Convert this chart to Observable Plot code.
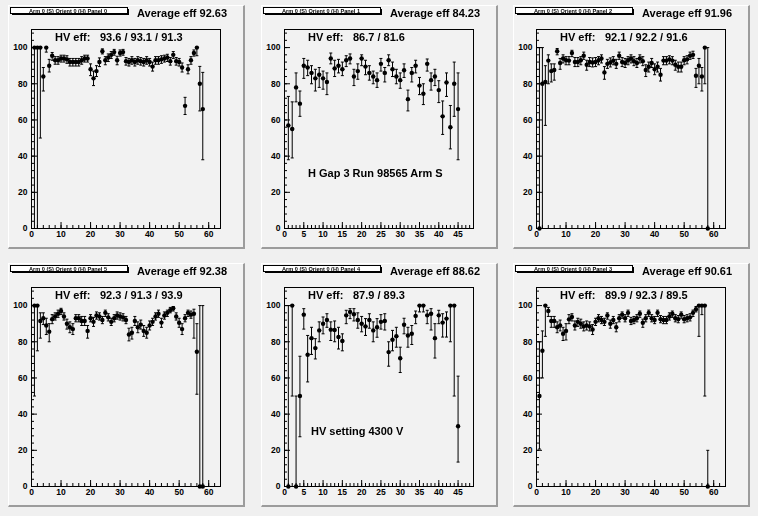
<!DOCTYPE html>
<html>
<head>
<meta charset="utf-8">
<script src="https://cdn.jsdelivr.net/npm/d3@7"></script>
<script src="https://cdn.jsdelivr.net/npm/@observablehq/plot@0.6"></script>
<style>
html,body{margin:0;padding:0;background:#f0f0f0;}
#canvas{position:relative;width:758px;height:516px;background:#f0f0f0;overflow:hidden;}
.pad{position:absolute;box-sizing:border-box;width:237px;height:244px;background:#f2f2f2;border-top:1px solid #ffffff;border-left:1px solid #ffffff;border-right:2px solid #9c9c9c;border-bottom:2px solid #9c9c9c;}
.cell{position:absolute;width:252px;height:256px;}
.cell svg{position:absolute;left:0;top:0;overflow:visible;}
svg.ann{will-change:transform;}
</style>
</head>
<body>
<div id="canvas"></div>
<script>
// ---- panel metadata (reading order: top row left->right, bottom row left->right)
const panelTitles = ["Arm 0 (S) Orient 0 (H) Panel 0","Arm 0 (S) Orient 0 (H) Panel 1","Arm 0 (S) Orient 0 (H) Panel 2",
                     "Arm 0 (S) Orient 0 (H) Panel 5","Arm 0 (S) Orient 0 (H) Panel 4","Arm 0 (S) Orient 0 (H) Panel 3"];
const avgEff = ["92.63","84.23","91.96","92.38","88.62","90.61"];
const hvEff = ["93.6 / 93.1 / 91.3","86.7 / 81.6","92.1 / 92.2 / 91.6","92.3 / 91.3 / 93.9","87.9 / 89.3","89.9 / 92.3 / 89.5"];
const xMax = [64,49,64,64,49,64];
const notes = [null,"H Gap 3 Run 98565 Arm S",null,null,"HV setting 4300 V",null];
const yTicks = [0,20,40,60,80,100];

// ---- efficiency per bin (bins 1..N), lower and upper error bounds
const eff0 = [100,100,100,84,100,90,95.5,93,93,94,94,93.5,92,92,92,92,93,94,94,88,83,87,92,98,93,94.5,96,97.5,93,97,97.5,92.5,92,93,92,93,92.5,92,93,92,89.5,93,93,93.5,94,94.5,92.5,96,92.5,92,89,67.8,88,93,97,100,80,66];
const lo0 = [0,0,50,76,97.5,86.5,93,90.8,90.8,92,92,91.3,89.8,89.8,89.8,89.8,90.8,92,92,84.5,79,84,89.5,96.5,90.5,92.3,94,95.8,90.5,95.3,95.8,90.3,89.8,90.8,89.8,90.8,90.3,89.8,90.8,89.8,87,90.8,90.8,91.3,92,92.3,90.3,94,90.3,89.8,86.5,63,85.5,90.8,95.3,95.5,65,38];
const hi0 = [100,100,100,89,100,93.5,97.3,95,95,95.8,95.8,95.5,94,94,94,94,95,95.8,95.8,91,87,90,94.3,99.3,95,96.5,97.8,99,95.2,98.7,99,94.5,94,95,94,95,94.5,94,95,94,92,95,95,95.5,95.8,96.3,94.5,97.8,94.5,94,91.5,72.5,90.5,95,98.7,100,89.6,86.3];

const eff1 = [57,55,78,69,90,89,86,83,85,83,81,94,88.5,90,88,93,94,84,87,94,89.5,86,84,82,91,86,93,88,84,82,87.5,71.5,86,90,79,74.5,91,82,84,76.5,62,80.7,56,80,66];
const lo1 = [38,39,70,62,83,84.5,80,76,78,77,74,91,84,86,84.5,89.5,91,79,82.5,90,85,82,80,78,87,81,90,84,80,77.5,83.5,65,81,86,74,68.5,87,76.5,79,69.6,52,73,44,62,38];
const hi1 = [73,70,86,76,94,93,90,88,89,87,86,97,93,93.5,92,95.5,96.5,88,91,96,93,90,87,86,94,89,96,92,88,86,91,76.5,89,93,83.5,80,93.7,86,88,81.7,70.5,86,68,92,86];

const eff2 = [0,80,81,92.8,87,87.6,98,91.5,94,93,92.8,97,92,92,93,95.5,90.5,92,91.8,92,93,94,86.3,91,91.8,92.8,91,95.5,92,91.5,93,94,92.5,91.5,94,92.5,87.6,89.4,91.5,88,89.4,85,92.8,92.8,93.5,92.8,90.5,89.4,89.4,93,93.5,95.5,96,84.4,90,84,100,0];
const lo2 = [0,0,57,80,81,82,96,88,91.5,90.5,90.5,95,89.5,89.5,90.5,93.5,87.5,89.5,89.3,89.5,90.5,91.5,82.5,88.5,89.3,90.5,88.5,93.5,89.5,89,90.5,91.5,90,89,91.5,90,84,86.5,89,85,86.5,81.5,90.5,90.5,91,90.5,87.5,86.5,86.5,90.5,91,93.5,94,78,80,76,80,0];
const hi2 = [100,100,90,96,91,91,99.5,94,96,95,95,98.5,94.5,94.5,95,97.5,93,94.5,94.3,94.5,95,96,89.5,93.5,94.3,95,93.5,97.5,94.5,94,95,96,95,94,96,95,90.5,92,94,91,92,88.5,95,95,95.5,95,93,92,92,95,95.5,97.5,98,88.5,94,89,100,100];

const eff3 = [100,100,91.5,93,89,85.6,92.5,94,95.5,97,94,90,88,87,93,93,91.5,91.5,86,93,91,94.5,94,92,96,93.5,91,93,94.5,94,93.5,92,84,85,91.5,88,89.5,86,85,89,91,94,95.5,90.6,94.5,96,97.5,98.5,94,90.5,87,93,96,95,95.5,74.5,0,0];
const lo3 = [50,75,82,89.5,84,80,90,92,93.5,95,92,87,85,84,91,91,89,89,82,91,88.5,92.5,92,90,94,91.5,89,91,92.5,92,91.5,90,80.5,81.5,89,85,87,83,82,86.5,89,92,93.5,88,92.5,94,96,97,92,88,84,91,94,93,82,51,0,0];
const hi3 = [100,100,96,96,93,90,95,96,97.5,98.5,96,92.5,91,90,95,95,94,94,89,95,93.5,96.5,96,94,97.5,95.5,93,95,96.5,96,95.5,94,87.5,88,94,91,92,89,88,91.5,93,96,97.5,93,96.5,97.5,99,99.5,96,93,90,95,97.5,97,98,90,100,100];

const eff4 = [0,100,0,50,95,72.8,82,76.5,86.3,90,92,86.7,86.5,82.6,80.4,94.6,96.5,95.2,92,90,88.5,92,86.3,88,91,91.5,74.3,81.1,83.1,70.9,89.4,83.5,84.4,94.3,100,100,94.6,95.5,82,94.6,90.6,92.8,100,100,33.3];
const lo4 = [0,50,0,27.5,87,57.8,73,70.5,80,84.4,88,80.7,80,76,75,90,92.8,91.5,87.5,85.5,83.5,87.5,80,82.5,87,86.5,66.5,75,77,63,84.4,77,78.5,90,96.5,96.5,90,86.5,71,90,82.6,82.6,80,50,13.5];
const hi4 = [100,100,50,72,98.3,83.5,88,81.7,91,93.7,95.5,91,91.5,88,84.4,97.4,98.3,98.3,96,94,92.8,95.5,91,92.8,95,95.5,80,86.3,88,77,93,88,89,97,100,100,97.4,98.3,90,97.4,95.5,96.5,100,100,61];

const eff5 = [50,75,100,97,91.5,91.5,88,89,84.4,86,92.4,93.7,89,91,90,88.5,89,88.5,86.8,91,93,92,91,94.5,90,92,88,93,95,93,96,91.5,92,93,95.5,90.5,93,96,93,92,96,92.5,92,92,94,95.5,93,92.5,95,92.5,93,93.5,96,98,100,100,100,0];
const lo5 = [20.7,60,83,94,88,88,85,86,80.7,81,90,91.5,86.5,88.5,87.5,86,86.5,86,84,89,91,90,89,92.5,87.5,90,85.5,91,93,91,94,89.5,90,91,93.5,88,91,94,91,90,94,90.5,90,90,92,93.5,91,90.5,93,90.5,91,91.5,94,96.5,83,95,50,0];
const hi5 = [80,86,100,99,94,94,91,92,88,90,95,95.5,91.5,93,92.5,91,91.5,91,89.5,93,95,94,93,96,92,94,90.5,95,96.5,95,97.5,93.5,94,95,97,92.5,95,97.5,95,94,97.5,94.5,94,94,96,97,95,94.5,96.5,94.5,95,95.5,97.5,99.5,100,100,100,20];

const effs = [eff0,eff1,eff2,eff3,eff4,eff5];
const los = [lo0,lo1,lo2,lo3,lo4,lo5];
const his = [hi0,hi1,hi2,hi3,hi4,hi5];

// ---- layout
const FONT = '"Liberation Sans", Arial, Helvetica, sans-serif';
const cellX = [0,253,505], cellY = [0,258];
const W = 252, H = 256, ML = 31, MR = 32, MT = 29, MB = 28;
const root = document.getElementById("canvas");

for (let i = 0; i < 6; i++) {
  const col = i % 3, row = Math.floor(i / 3);
  const pad = document.createElement("div");
  pad.className = "pad";
  pad.style.left = (cellX[col] + 8) + "px";
  pad.style.top = (cellY[row] + 5) + "px";
  root.appendChild(pad);

  const cell = document.createElement("div");
  cell.className = "cell";
  cell.style.left = cellX[col] + "px";
  cell.style.top = cellY[row] + "px";
  root.appendChild(cell);

  const data = effs[i].map((v, j) => ({x: j + 1, y: v, lo: los[i][j], hi: his[i][j]}));
  const xm = xMax[i];
  const pxPerUnit = (W - ML - MR) / xm;
  const cap = 1.5 / pxPerUnit;
  const major = xm > 50 ? d3.range(0, xm + 0.01, 10) : d3.range(0, xm + 0.01, 5);
  const minor = xm > 50 ? d3.range(0, xm + 0.01, 2) : d3.range(0, xm + 0.01, 1);
  const yMinor = d3.range(0, 110, 4);

  const chart = Plot.plot({
    width: W, height: H,
    marginLeft: ML, marginRight: MR, marginTop: MT, marginBottom: MB,
    style: {background: "transparent", fontFamily: FONT, fontSize: "8.5px", fontWeight: "bold", color: "#000", overflow: "visible"},
    x: {domain: [0, xm]},
    y: {domain: [0, 110]},
    marks: [
      Plot.frame({stroke: "#000", strokeWidth: 1}),
      Plot.axisX({ticks: minor, tickSize: -3, tickFormat: () => "", label: null}),
      Plot.axisX({ticks: major, tickSize: -6, tickPadding: 8, label: null, fontWeight: "bold"}),
      Plot.axisY({ticks: yMinor, tickSize: -3, tickFormat: () => "", label: null}),
      Plot.axisY({ticks: yTicks, tickSize: -6, tickPadding: 10, label: null, fontWeight: "bold"}),
      Plot.link(data, {x1: d => d.x - 0.5, x2: d => d.x + 0.5, y1: "y", y2: "y", stroke: "#000", strokeWidth: 1}),
      Plot.link(data, {x1: "x", x2: "x", y1: "lo", y2: "hi", stroke: "#000", strokeWidth: 1}),
      Plot.link(data, {x1: d => d.x - cap, x2: d => d.x + cap, y1: "lo", y2: "lo", stroke: "#000", strokeWidth: 1}),
      Plot.link(data, {x1: d => d.x - cap, x2: d => d.x + cap, y1: "hi", y2: "hi", stroke: "#000", strokeWidth: 1}),
      Plot.dot(data, {x: "x", y: "y", r: 2.2, fill: "#000", stroke: null})
    ]
  });
  cell.appendChild(chart);

  // annotations: title box, average efficiency, HV efficiency, notes
  const ov = d3.create("svg").attr("class", "ann").attr("width", W).attr("height", H)
    .style("font-family", FONT).style("font-weight", "bold");
  ov.append("rect").attr("x", 12).attr("y", 9).attr("width", 117).attr("height", 6).attr("fill", "#000");
  ov.append("rect").attr("x", 10.5).attr("y", 7.5).attr("width", 117).attr("height", 6).attr("fill", "#fff").attr("stroke", "#000");
  ov.append("text").attr("x", 68).attr("y", 12.8).attr("text-anchor", "middle").attr("font-size", 5.6).attr("fill", "#000").text(panelTitles[i]);
  ov.append("text").attr("x", 137).attr("y", 16.7).attr("font-size", 11).text("Average eff " + avgEff[i]);
  ov.append("text").attr("x", 55).attr("y", 40.7).attr("font-size", 11).text("HV eff:");
  ov.append("text").attr("x", 100).attr("y", 40.7).attr("font-size", 11).text(hvEff[i]);
  if (notes[i]) ov.append("text").attr("x", i === 1 ? 55 : 58).attr("y", 176.7).attr("font-size", 11).text(notes[i]);
  cell.appendChild(ov.node());
}
</script>
</body>
</html>
